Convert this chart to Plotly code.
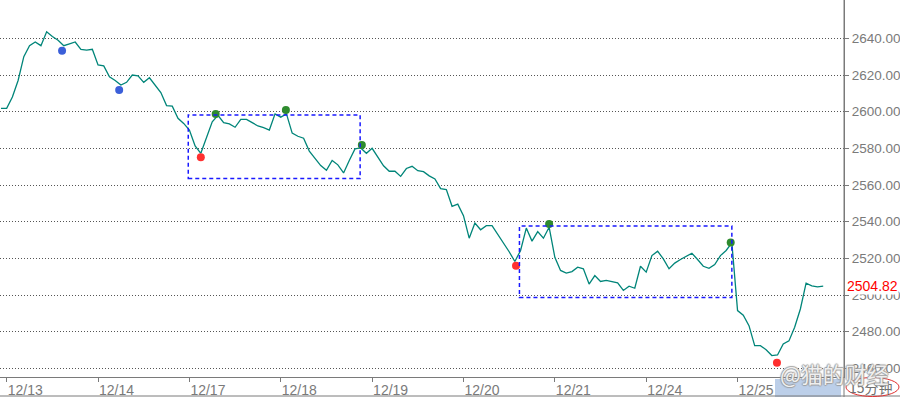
import plotly.graph_objects as go

# ---- data ----
close_prices = [
    2601.8, 2601.8, 2608.0, 2617.0, 2630.0, 2636.0, 2638.0, 2636.0, 2643.6, 2641.0,
    2639.0, 2636.0, 2637.0, 2638.0, 2634.0, 2633.6, 2634.0, 2625.5, 2625.0, 2619.0,
    2617.0, 2614.5, 2616.0, 2620.0, 2619.5, 2616.0, 2618.5, 2614.5, 2610.4, 2603.3,
    2603.0, 2596.4, 2593.6, 2590.0, 2581.3, 2577.3, 2586.0, 2594.5, 2598.0, 2594.0,
    2593.3, 2591.5, 2595.8, 2595.8, 2594.0, 2592.2, 2591.3, 2590.0, 2598.8, 2597.0,
    2598.8, 2588.3, 2586.6, 2585.5, 2578.5, 2574.3, 2570.6, 2568.0, 2573.4, 2571.0,
    2566.6, 2573.4, 2579.7, 2580.2, 2577.3, 2580.0, 2575.0, 2570.5, 2567.5, 2567.5,
    2564.7, 2569.0, 2570.2, 2567.8, 2567.3, 2565.0, 2563.3, 2558.0, 2557.5, 2548.4,
    2549.6, 2543.3, 2531.0, 2539.3, 2535.6, 2537.8, 2537.8, 2533.3, 2528.6, 2523.6,
    2518.3, 2524.3, 2536.5, 2529.4, 2534.6, 2531.0, 2537.0, 2520.6, 2513.4, 2512.0,
    2512.8, 2515.2, 2514.3, 2506.0, 2510.6, 2507.4, 2508.0, 2507.4, 2506.6, 2502.5,
    2504.8, 2503.7, 2515.7, 2512.5, 2521.5, 2523.9, 2519.7, 2514.3, 2517.4, 2519.4,
    2521.2, 2522.8, 2519.4, 2515.7, 2514.6, 2516.6, 2521.5, 2524.3, 2528.5, 2491.5,
    2489.0, 2483.3, 2472.4, 2472.4, 2470.2, 2467.0, 2467.3, 2473.3, 2475.0, 2482.4,
    2492.4, 2506.5, 2505.0, 2504.5, 2504.82,
]
bar_index = list(range(len(close_prices)))

day_labels = ["12/13", "12/14", "12/17", "12/18", "12/19", "12/20", "12/21", "12/24", "12/25"]
day_start_idx = [1, 17, 33, 49, 65, 81, 97, 113, 129]

price_ticks = [2460, 2480, 2500, 2520, 2540, 2560, 2580, 2600, 2620, 2640]

signal_idx = [10.7, 20.7, 35.0, 37.6, 49.9, 63.2, 90.2, 96.0, 127.8, 135.9]
signal_val = [2633.2, 2611.8, 2575.1, 2598.7, 2600.9, 2581.8, 2516.0, 2538.7, 2528.7, 2463.1]
signal_color = ["#3b5fd9", "#3b5fd9", "#ff3030", "#2e8b2e", "#2e8b2e",
                "#2e8b2e", "#ff3030", "#2e8b2e", "#2e8b2e", "#ff3030"]

# consolidation boxes: (start idx, end idx, low, high)
box_x0 = [32.8, 90.8]
box_x1 = [62.9, 128.0]
box_low = [2563.6, 2498.7]
box_high = [2598.2, 2537.6]

last_price = 2504.82
period_label = "15分钟"
watermark = "@猫的财经"

# ---- figure ----
W, H = 900, 397
ML, MR, MT, MB = 0, 56, 0, 20
PW, PH = W - ML - MR, H - MT - MB


def px(x):
    return (x - ML) / PW


def py(y):
    return (H - MB - y) / PH


GRAY = "#7a7a7a"
FONT = "Liberation Sans, Arial, sans-serif"

fig = go.Figure()
fig.add_trace(go.Scatter(
    x=bar_index, y=close_prices, mode="lines",
    line=dict(color="#008579", width=1.3), hoverinfo="skip", showlegend=False,
))
fig.add_trace(go.Scatter(
    x=signal_idx, y=signal_val, mode="markers",
    marker=dict(color=signal_color, size=8, line=dict(width=0)),
    hoverinfo="skip", showlegend=False,
))

shapes = []
for x0, x1, lo, hi in zip(box_x0, box_x1, box_low, box_high):
    shapes.append(dict(type="rect", xref="x", yref="y", x0=x0, x1=x1, y0=lo, y1=hi,
                       line=dict(color="#1a1aff", width=1.5, dash="4px,3px"),
                       fillcolor="rgba(0,0,0,0)", layer="above"))
# light blue highlight under the watermark
shapes.append(dict(type="rect", xref="paper", yref="paper", x0=px(775), x1=px(841),
                   y0=py(397), y1=py(379), fillcolor="#bccfe9", line=dict(width=0),
                   layer="below"))
# bottom border line
shapes.append(dict(type="line", xref="paper", yref="paper", x0=px(0), x1=px(900),
                   y0=py(396), y1=py(396), line=dict(color=GRAY, width=1)))
# right axis line extension
shapes.append(dict(type="line", xref="paper", yref="paper", x0=1, x1=1,
                   y0=1, y1=py(397), line=dict(color=GRAY, width=1)))
# red ellipse around period label
shapes.append(dict(type="circle", xref="paper", yref="paper", x0=px(846), x1=px(899),
                   y0=py(396.5), y1=py(377.5), line=dict(color="#e03030", width=1)))

annotations = [
    dict(xref="paper", yref="y", x=1, y=last_price, xanchor="left", yanchor="middle",
         xshift=2, text=f"{last_price:.2f}", showarrow=False, bgcolor="white",
         font=dict(family=FONT, size=14, color="#ff0000"), borderpad=0),
    dict(xref="paper", yref="paper", x=px(871), y=py(387.5), xanchor="center",
         yanchor="middle", text=period_label, showarrow=False,
         font=dict(family="Noto Sans CJK SC, sans-serif", size=14, color="#707070")),
    dict(xref="paper", yref="paper", x=px(834), y=py(373), xanchor="center",
         yanchor="middle", text=watermark, showarrow=False,
         font=dict(family="Noto Sans CJK SC, sans-serif", size=22,
                   color="rgba(255,255,255,0.85)",
                   shadow="1px 0 1px #999, -1px 0 1px #999, 0 1px 1px #999, 0 -1px 1px #999")),
]

fig.update_layout(
    width=W, height=H, margin=dict(l=ML, r=MR, t=MT, b=MB, autoexpand=False),
    paper_bgcolor="white", plot_bgcolor="white",
    shapes=shapes, annotations=annotations,
    font=dict(family=FONT, size=14, color=GRAY),
    xaxis=dict(
        automargin=False,
        range=[(0 - 0.97) / 5.71, (PW - 0.97) / 5.71],
        tickmode="array", tickvals=day_start_idx, ticktext=day_labels,
        ticks="outside", ticklen=4, tickcolor=GRAY, tickwidth=1,
        ticklabelposition="outside right",
        showline=True, linecolor=GRAY, linewidth=1,
        showgrid=False, zeroline=False,
        tickfont=dict(family=FONT, size=14, color=GRAY),
    ),
    yaxis=dict(
        automargin=False,
        side="right",
        range=[2455.3, 2660.9],
        tickmode="array", tickvals=price_ticks,
        ticktext=[f"{v:.2f}" for v in price_ticks],
        ticks="outside", ticklen=4, tickcolor=GRAY, tickwidth=1,
        showline=True, linecolor=GRAY, linewidth=1,
        showgrid=True, gridcolor="#555555", griddash="1px,2px", gridwidth=1,
        zeroline=False,
        tickfont=dict(family=FONT, size=13.5, color=GRAY),
    ),
)

fig.write_html(
    "out.html",
    config={"displayModeBar": False},
    post_script="document.body.style.margin='0';document.body.style.overflow='hidden';",
)
